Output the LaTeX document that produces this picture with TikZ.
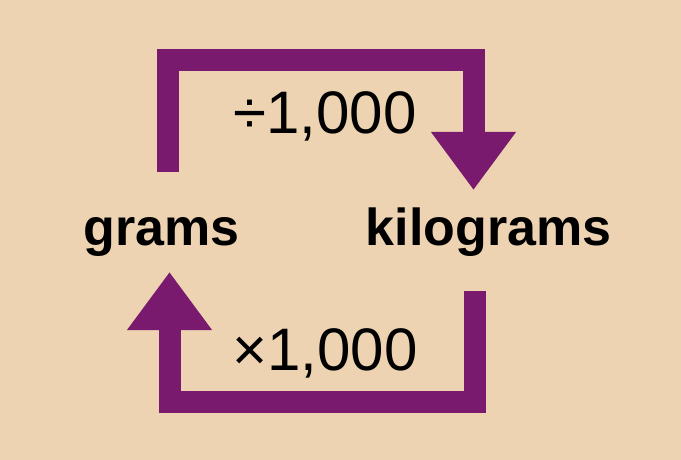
\documentclass[tikz,border=0pt]{standalone}
\usepackage{fontspec}
\setmainfont{Liberation Sans}
\usetikzlibrary{arrows.meta}
\definecolor{paper}{HTML}{EDD3B1}
\definecolor{plum}{HTML}{7A1A6F}
\tikzset{
  unitword/.style={font=\fontsize{52}{56}\selectfont\bfseries, inner sep=0pt, anchor=base, text=black},
  factor/.style={font=\fontsize{60}{64}\selectfont, inner sep=0pt, anchor=base, text=black},
  bentarrow/.style={draw=plum, line width=22pt, line join=miter, line cap=butt,
    -{Triangle[width=81pt,length=58pt]}}
}
\begin{document}
\begin{tikzpicture}[x=1pt,y=-1pt]
  \fill[paper] (0,0) rectangle (681,460);
  \useasboundingbox (0,0) rectangle (681,460);

  % unit labels
  \node[unitword] (g) at (161.5,245) {grams};
  \node[unitword] (kg) at (488.5,245) {kilograms};

  % conversion factors
  \node[factor] (div) at (325,133) {÷1,000};
  \node[factor] (mul) at (325,370) {×1,000};

  % ends of the two bent arrows
  \coordinate (gtop) at (167.5,172);
  \coordinate (kgtip) at (473.5,190);
  \coordinate (kgbot) at (474.5,291);
  \coordinate (gtip) at (169.5,272);

  % grams -> kilograms
  \draw[bentarrow] (gtop) -- (gtop |- 0,60) -- (kgtip |- 0,60) -- (kgtip);
  % kilograms -> grams
  \draw[bentarrow] (kgbot) -- (kgbot |- 0,401.5) -- (gtip |- 0,401.5) -- (gtip);
\end{tikzpicture}
\end{document}
